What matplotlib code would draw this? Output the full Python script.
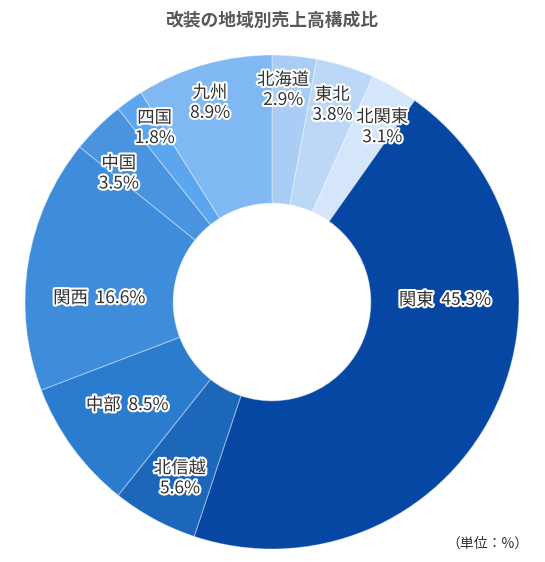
import matplotlib.pyplot as plt
import matplotlib.patheffects as pe
import numpy as np

plt.rcParams['font.family'] = ['Noto Sans CJK JP', 'DejaVu Sans']

regions = ['北海道', '東北', '北関東', '関東', '北信越', '中部', '関西', '中国', '四国', '九州']
shares = [2.9, 3.8, 3.1, 45.3, 5.6, 8.5, 16.6, 3.5, 1.8, 8.9]
colors = ['#a9cdf5', '#bdd8f7', '#d6e6fa', '#0747a4', '#1d67bb', '#2b7bcf',
          '#3e8cda', '#4a94df', '#5ba6ee', '#7fb8f2']

# label placement (angle in degrees, radius as fraction of outer radius), set by hand like the original
label_pos = [(87, 0.86), (73, 0.835), (57.8, 0.837), (0.7, 0.70), (242.4, 0.805),
             (215.4, 0.72), (178.7, 0.70), (140, 0.81), (124, 0.85), (107.3, 0.845)]
one_line = ['関東', '関西', '中部']

fig = plt.figure(figsize=(5.45, 5.62), dpi=100)
ax = fig.add_axes([0.0459, 0.0231, 0.9064, 0.879])

wedges, _ = ax.pie(shares, colors=colors, startangle=90, counterclock=False,
                   radius=1.0, wedgeprops=dict(width=0.6, edgecolor=(1, 1, 1, 0.35), linewidth=0.8))
ax.set_xlim(-1, 1)
ax.set_ylim(-1, 1)
ax.set_aspect('equal')
ax.axis('off')

stroke = [pe.withStroke(linewidth=3, foreground='white')]
for name, val, (ang, r) in zip(regions, shares, label_pos):
    a = np.deg2rad(ang)
    if name in one_line:
        txt = f'{name}  {val:.1f}%'
    else:
        txt = f'{name}\n{val:.1f}%'
    ax.text(r * np.cos(a), r * np.sin(a), txt, ha='center', va='center',
            fontsize=12.5, color='#333333', linespacing=1.15, path_effects=stroke)

fig.text(0.5, 0.963, '改装の地域別売上高構成比', ha='center', va='center',
         fontsize=12.8, fontweight='bold', color='#595959')
fig.text(0.894, 0.032, '（単位：%）', ha='center', va='center', fontsize=10, color='#333333')

fig.savefig('out.png', dpi=100)
